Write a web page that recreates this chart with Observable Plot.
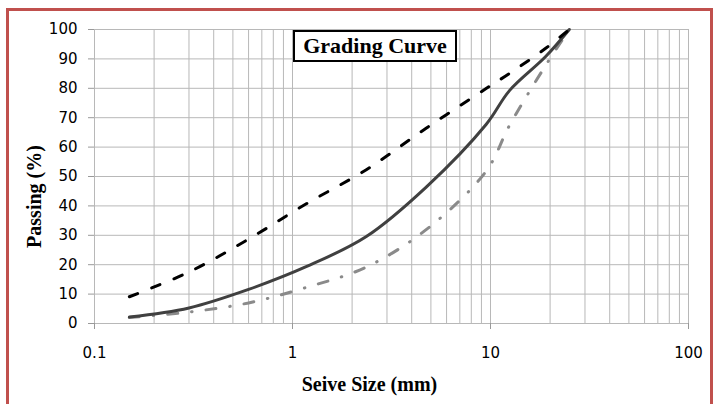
<!DOCTYPE html>
<html>
<head>
<meta charset="utf-8">
<script src="https://cdn.jsdelivr.net/npm/d3@7"></script>
<script src="https://cdn.jsdelivr.net/npm/@observablehq/plot@0.6"></script>
<style>
  html, body { margin: 0; padding: 0; background: #fff; }
  #wrap { position: relative; width: 720px; height: 404px; overflow: hidden; background: #fff; }
  #wrap svg { position: absolute; left: 0; top: 0; }
  #border {
    position: absolute; left: 6px; top: 8px; width: 707px; height: 430px;
    border: 3px solid #c0504d; box-sizing: border-box; pointer-events: none;
  }
  #title {
    position: absolute; left: 293px; top: 30px; width: 164px; height: 32px;
    box-sizing: border-box; border: 2.5px solid #000; background: #fff;
    font: bold 22px "Liberation Serif", "Times New Roman", serif;
    display: flex; align-items: center; justify-content: center; white-space: nowrap;
  }
</style>
</head>
<body>
<div id="wrap">
  <div id="border"></div>
</div>
<script>
// Sieve openings (mm) and cumulative percent passing for each curve
const sieveSizes = [0.15, 0.3, 0.6, 1.18, 2.36, 4.75, 9.5, 12.5, 19, 25];
const upperLimit = [9.1, 17.5, 28.7, 40.8, 52.3, 66.5, 79.9, 85.1, 93.6, 100];
const blendPassing = [2.2, 5.3, 11.6, 19.4, 29.6, 46.5, 67.7, 79.3, 90.8, 100];
const lowerLimit = [2.0, 3.9, 7.0, 12.3, 19.2, 32.0, 51.8, 67.5, 87.8, 100];

// Axis ticks
const xTicks = [0.1, 1, 10, 100];
const xTickLabels = ["0.1", "1", "10", "100"];
const yTicks = d3.range(0, 101, 10);

// Log-cycle grid: 1..9 in every decade plus the closing 100
const xGrid = [];
for (const decade of [0.1, 1, 10]) for (let k = 1; k <= 9; k++) xGrid.push(+(k * decade).toPrecision(3));
xGrid.push(100);

const rows = (values) => sieveSizes.map((s, i) => ({size: s, passing: values[i]}));

const chart = Plot.plot({
  width: 720,
  height: 404,
  marginLeft: 94,
  marginRight: 32,
  marginTop: 29,
  marginBottom: 81,
  style: {fontFamily: "DejaVu Sans", fontSize: "15px", color: "#000", background: "transparent"},
  x: {type: "log", domain: [0.1, 100]},
  y: {domain: [0, 100]},
  marks: [
    Plot.ruleX(xGrid, {stroke: "#b8b8b8", strokeWidth: 1}),
    Plot.ruleY(yTicks, {stroke: "#b8b8b8", strokeWidth: 1}),
    Plot.axisX({
      ticks: xTicks,
      tickFormat: (d) => xTickLabels[xTicks.indexOf(d)],
      tickSize: 6, tickPadding: 18, stroke: "#999", fill: "#000", fontSize: 15, label: null
    }),
    Plot.axisY({
      ticks: yTicks, tickSize: 6, tickPadding: 11, stroke: "#999", fill: "#000", fontSize: 15, label: null
    }),
    Plot.line(rows(lowerLimit), {
      x: "size", y: "passing", curve: "catmull-rom",
      stroke: "#8a8a8a", strokeWidth: 3, strokeLinecap: "round",
      strokeDasharray: "10,14,0.5,14"
    }),
    Plot.line(rows(blendPassing), {
      x: "size", y: "passing", curve: "catmull-rom",
      stroke: "#404040", strokeWidth: 3, strokeLinecap: "round"
    }),
    Plot.line(rows(upperLimit), {
      x: "size", y: "passing", curve: "catmull-rom",
      stroke: "#000", strokeWidth: 3, strokeLinecap: "round",
      strokeDasharray: "9,15"
    }),
    Plot.text(["Seive Size (mm)"], {
      frameAnchor: "bottom", dx: -22, dy: 61, lineAnchor: "middle", textAnchor: "middle",
      fontFamily: "Liberation Serif", fontWeight: "bold", fontSize: 20, fill: "#000"
    }),
    Plot.text(["Passing (%)"], {
      frameAnchor: "left", dx: -60, dy: 20, rotate: -90, lineAnchor: "middle", textAnchor: "middle",
      fontFamily: "Liberation Serif", fontWeight: "bold", fontSize: 20, fill: "#000"
    })
  ]
});

const wrap = document.getElementById("wrap");
wrap.insertBefore(chart, wrap.firstChild);

const title = document.createElement("div");
title.id = "title";
title.textContent = "Grading Curve";
wrap.appendChild(title);
</script>
</body>
</html>
